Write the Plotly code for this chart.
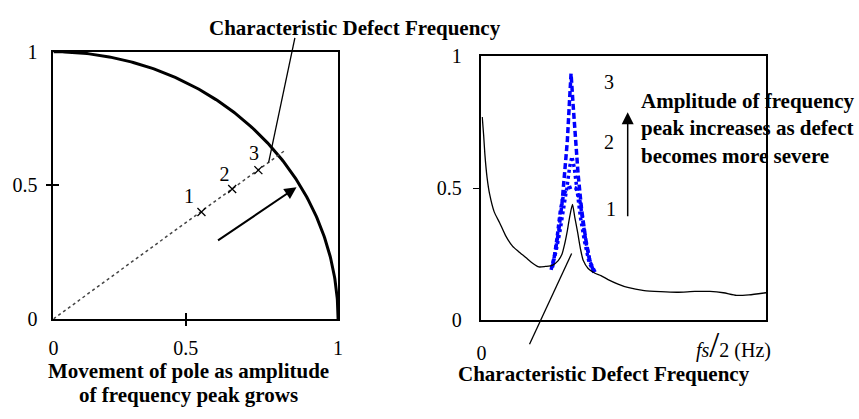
import numpy as np
import plotly.graph_objects as go

W, H = 859, 419
FONT = "Liberation Serif"

# ---------------- data: left panel (pole plot) ----------------
pole_x = [0.52, 0.628, 0.72]
pole_y = [0.40, 0.486, 0.557]
pole_labels = ["1", "2", "3"]
pole_label_x = [0.476, 0.601, 0.705]
pole_label_y = [0.454, 0.535, 0.613]
radial_x = [0.0, 0.81]
radial_y = [0.0, 0.628]
unit_radius = 1.0
left_xtick_vals = [0.0, 0.465, 1.0]
left_xtick_text = ["0", "0.5", "1"]
left_ytick_vals = [0.0, 0.5, 1.0]
left_ytick_text = ["0", "0.5", "1"]

# ---------------- data: right panel (spectrum) ----------------
freq = [0.003, 0.008, 0.012, 0.02, 0.029, 0.045, 0.064, 0.085, 0.11, 0.13,
        0.156, 0.18, 0.202, 0.225, 0.249, 0.27, 0.283, 0.293, 0.301, 0.31,
        0.32, 0.328, 0.338, 0.348, 0.358, 0.375, 0.399, 0.42, 0.445, 0.48,
        0.514, 0.572, 0.63, 0.688, 0.75, 0.803, 0.85, 0.896, 0.94, 1.0]
spectrum = [0.77, 0.70, 0.632, 0.54, 0.477, 0.41, 0.369, 0.32, 0.279, 0.26,
            0.237, 0.215, 0.201, 0.203, 0.207, 0.225, 0.249, 0.29, 0.333, 0.39,
            0.438, 0.39, 0.333, 0.27, 0.225, 0.195, 0.177, 0.168, 0.153, 0.136,
            0.123, 0.111, 0.107, 0.105, 0.108, 0.108, 0.103, 0.093, 0.095, 0.103]

peak1_f = [0.245, 0.258, 0.268, 0.278, 0.29, 0.305, 0.318, 0.332, 0.345, 0.355, 0.368, 0.382, 0.40]
peak1_a = [0.19, 0.25, 0.33, 0.42, 0.48, 0.50, 0.505, 0.50, 0.46, 0.38, 0.29, 0.22, 0.18]
peak2_f = [0.248, 0.262, 0.275, 0.288, 0.30, 0.31, 0.318, 0.326, 0.336, 0.348, 0.362, 0.378, 0.395]
peak2_a = [0.20, 0.26, 0.33, 0.41, 0.50, 0.58, 0.62, 0.58, 0.49, 0.39, 0.30, 0.22, 0.18]
peak3_f = [0.25, 0.262, 0.272, 0.283, 0.293, 0.302, 0.309, 0.315, 0.322, 0.33, 0.34, 0.352, 0.366, 0.38, 0.395]
peak3_a = [0.20, 0.27, 0.34, 0.44, 0.55, 0.68, 0.82, 0.935, 0.82, 0.68, 0.55, 0.42, 0.31, 0.23, 0.18]

peak_labels = ["1", "2", "3"]
peak_label_f = [0.455, 0.448, 0.448]
peak_label_a = [0.414, 0.669, 0.896]
right_ytick_vals = [0.0, 0.5, 1.0]
right_ytick_text = ["0", "0.5", "1"]

# ---------------- helpers ----------------
def px(xp):
    return xp / W

def py(yp):
    return 1 - yp / H

fig = go.Figure()

theta = np.linspace(0, np.pi / 2, 200)
fig.add_trace(go.Scatter(x=unit_radius * np.cos(theta), y=unit_radius * np.sin(theta),
                         mode="lines", line=dict(color="black", width=3),
                         xaxis="x", yaxis="y", hoverinfo="skip"))
fig.add_trace(go.Scatter(x=radial_x, y=radial_y, mode="lines",
                         line=dict(color="#444", width=1.5, dash="dot"),
                         xaxis="x3", yaxis="y3", hoverinfo="skip"))
fig.add_trace(go.Scatter(x=pole_x, y=pole_y, mode="markers",
                         marker=dict(symbol="x-thin", size=8, line=dict(color="black", width=1.3)),
                         xaxis="x3", yaxis="y3", hoverinfo="skip"))
fig.add_trace(go.Scatter(x=pole_label_x, y=pole_label_y, mode="text", text=pole_labels,
                         textfont=dict(family=FONT, size=20, color="black"),
                         xaxis="x3", yaxis="y3", hoverinfo="skip"))

for f, a, d in [(peak1_f, peak1_a, "4px,3px"), (peak2_f, peak2_a, "3px,3px"), (peak3_f, peak3_a, "6px,3px")]:
    fig.add_trace(go.Scatter(x=f, y=a, mode="lines",
                             line=dict(color="#0000FF", width=3.5, dash=d),
                             xaxis="x2", yaxis="y2", hoverinfo="skip"))
fig.add_trace(go.Scatter(x=freq, y=spectrum, mode="lines",
                         line=dict(color="black", width=1.3, shape="spline", smoothing=0.6),
                         xaxis="x4", yaxis="y4", hoverinfo="skip"))
fig.add_trace(go.Scatter(x=peak_label_f, y=peak_label_a, mode="text", text=peak_labels,
                         textfont=dict(family=FONT, size=20, color="black"),
                         xaxis="x4", yaxis="y4", hoverinfo="skip"))

tickfont = dict(family=FONT, size=20, color="black")
common = dict(showgrid=False, zeroline=False, fixedrange=True)

fig.update_layout(
    width=W, height=H, margin=dict(l=0, r=0, t=0, b=0),
    paper_bgcolor="white", plot_bgcolor="white", showlegend=False,
    font=dict(family=FONT, color="black"),
    xaxis=dict(domain=[px(49), px(337)], range=[0, 1], anchor="y",
               tickvals=left_xtick_vals, ticktext=left_xtick_text,
               ticks="inside", ticklen=6, tickwidth=1.5, tickcolor="black",
               showline=True, mirror=True, linecolor="black", linewidth=2,
               tickfont=tickfont, ticklabelstandoff=10, **common),
    yaxis=dict(domain=[py(325), py(43)], range=[0, 1], anchor="x",
               tickvals=left_ytick_vals, ticktext=left_ytick_text,
               ticks="inside", ticklen=6, tickwidth=1.5, tickcolor="black",
               showline=True, mirror=True, linecolor="black", linewidth=2,
               tickfont=tickfont, ticklabelstandoff=10, **common),
    xaxis3=dict(overlaying="x", anchor="y3", range=[0, 1],
                tickvals=[left_xtick_vals[1]], ticks="outside", ticklen=6, tickwidth=1.5,
                tickcolor="black", showticklabels=False, showline=False, **common),
    yaxis3=dict(overlaying="y", anchor="x3", range=[0, 1],
                tickvals=[left_ytick_vals[1]], ticks="outside", ticklen=6, tickwidth=1.5,
                tickcolor="black", showticklabels=False, showline=False, **common),
    xaxis2=dict(domain=[px(482), px(770)], range=[0, 1], anchor="y2",
                tickvals=[0], ticktext=["0"], ticks="",
                showline=True, mirror=True, linecolor="black", linewidth=1.5,
                tickfont=tickfont, ticklabelstandoff=14, **common),
    yaxis2=dict(domain=[py(326), py(48)], range=[0, 1], anchor="x2",
                tickvals=right_ytick_vals, ticktext=right_ytick_text, ticks="",
                showline=True, mirror=True, linecolor="black", linewidth=1.5,
                tickfont=tickfont, ticklabelstandoff=14, **common),
    xaxis4=dict(overlaying="x2", anchor="y4", range=[0, 1], showticklabels=False,
                ticks="", showline=False, **common),
    yaxis4=dict(overlaying="y2", anchor="x4", range=[0, 1],
                tickvals=[right_ytick_vals[1]], ticks="outside", ticklen=7, tickwidth=1.2,
                tickcolor="black", showticklabels=False, showline=False, **common),
)

bold = dict(family=FONT, size=21, color="black")
ann = []
ann.append(dict(x=px(354), y=py(18), xref="paper", yref="paper", showarrow=False,
                text="<b>Characteristic Defect Frequency</b>", font=bold,
                xanchor="center", yanchor="middle"))
ann.append(dict(x=px(186), y=py(380), xref="paper", yref="paper", showarrow=False,
                text="<b>Movement of pole as amplitude</b>", font=bold,
                xanchor="center", yanchor="middle"))
ann.append(dict(x=px(186), y=py(405), xref="paper", yref="paper", showarrow=False,
                text="<b>of frequency peak grows</b>", font=bold,
                xanchor="center", yanchor="middle"))
ann.append(dict(x=px(606), y=py(383), xref="paper", yref="paper", showarrow=False,
                text="<b>Characteristic Defect Frequency</b>", font=bold,
                xanchor="center", yanchor="middle"))
for txt, yy in [("Amplitude of frequency", 95), ("peak increases as defect", 123),
                ("becomes more severe", 153)]:
    ann.append(dict(x=px(641), y=py(yy), xref="paper", yref="paper", showarrow=False,
                    text="<b>" + txt + "</b>", font=bold, xanchor="left", yanchor="middle"))
ann.append(dict(x=px(737), y=py(352), xref="paper", yref="paper", showarrow=False,
                text='<i>fs</i><span style="font-size:36px">/</span>2 (Hz)',
                font=dict(family=FONT, size=20, color="black"),
                xanchor="center", yanchor="middle"))
ann.append(dict(x=0.854, y=0.493, ax=0.573, ay=0.29, xref="x", yref="y", axref="x", ayref="y",
                text="", showarrow=True, arrowhead=2, arrowsize=1.2, arrowwidth=2,
                arrowcolor="black", standoff=0))
ann.append(dict(x=0.514, y=0.788, ax=0.514, ay=0.388, xref="x2", yref="y2", axref="x2", ayref="y2",
                text="", showarrow=True, arrowhead=2, arrowsize=1.6, arrowwidth=1.5,
                arrowcolor="black", standoff=0))
fig.update_layout(annotations=ann)

fig.add_shape(type="line", xref="paper", yref="paper", x0=px(266.7), y0=py(160),
              x1=px(293.3), y1=py(28.3), line=dict(color="black", width=1.3))
fig.add_shape(type="line", xref="paper", yref="paper", x0=px(573.3), y0=py(256),
              x1=px(530.7), y1=py(351.7), line=dict(color="black", width=1.3))

fig.write_html("out.html")
